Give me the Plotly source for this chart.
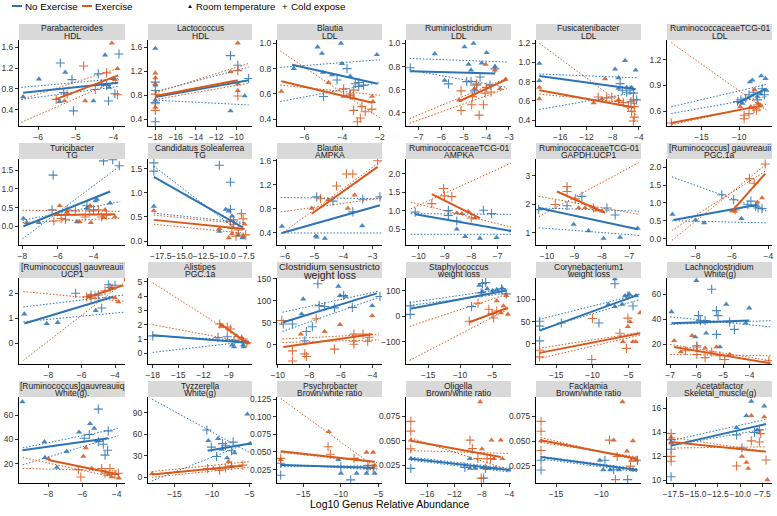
import plotly.graph_objects as go
from plotly.subplots import make_subplots

W, H = 777, 516
BLUE = "#2c73b4"
ORANGE = "#d9581c"
FONT = "Liberation Sans, Arial, sans-serif"

# Facet titles (genus / measurement)
GENUS = [
    "Parabacteroides", "Lactococcus", "Blautia", "Ruminiclostridium", "Fusicatenibacter", "RuminococcaceaeTCG-01",
    "Turicibacter", "Candidatus Soleaferrea", "Blautia", "RuminococcaceaeTCG-01", "RuminococcaceaeTCG-01", "[Ruminococcus] gauvreauii",
    "[Ruminococcus] gauvreauii", "Alistipes", "Clostridium sensustricto", "Staphylococcus", "Corynebacterium1", "Lachnoclostridium",
    "[Ruminococcus]gauvreauiiq", "Tyzzerella", "Psychrobacter", "Oligella", "Facklamia", "Acetatifactor",
]
MEASURE = [
    "HDL", "HDL", "LDL", "LDL", "LDL", "LDL",
    "TG", "TG", "AMPKA", "AMPKA", "GAPDH.UCP1", "PGC.1a",
    "UCP1", "PGC.1a", "weight loss", "weight loss", "weight loss", "White(g)",
    "White(g).", "White(g)", "Brown/white ratio", "Brown/white ratio", "Brown/white ratio", "Skeletal_muscle(g)",
]

X_TICKS = [
    ["-6", "-5", "-4"], ["-18", "-16", "-14", "-12", "-10"], ["-6", "-4", "-2"],
    ["-7", "-6", "-5", "-4", "-3"], ["-16", "-12", "-8", "-4"], ["-15", "-10"],
    ["-8", "-6", "-4"], ["-17.5", "-15.0", "-12.5", "-10.0", "-7.5"], ["-6", "-5", "-4", "-3"],
    ["-10", "-9", "-8", "-7"], ["-10", "-9", "-8", "-7"], ["-8", "-6", "-4"],
    ["-8", "-6", "-4"], ["-18", "-15", "-12", "-9"], ["-10", "-8", "-6", "-4"],
    ["-15", "-10", "-5"], ["-15", "-10", "-5"], ["-7", "-6", "-5", "-4"],
    ["-8", "-6", "-4"], ["-15", "-10", "-5"], ["-15", "-10", "-5"],
    ["-16", "-12", "-8", "-4"], ["-15", "-10"], ["-17.5", "-15.0", "-12.5", "-10.0", "-7.5"],
]
Y_TICKS = [
    ["0.4", "0.8", "1.2", "1.6"], ["0.4", "0.8", "1.2", "1.6"], ["0.4", "0.6", "0.8", "1.0"],
    ["0.4", "0.6", "0.8", "1.0"], ["0.4", "0.6", "0.8", "1.0", "1.2"], ["0.6", "0.9", "1.2"],
    ["0.0", "0.5", "1.0", "1.5"], ["0.0", "0.5", "1.0", "1.5"], ["0.4", "0.8", "1.2", "1.6"],
    ["0.5", "1.0", "1.5", "2.0"], ["1", "2", "3"], ["0.0", "0.5", "1.0", "1.5", "2.0"],
    ["0", "1", "2"], ["0", "1", "2", "3", "4", "5"], ["0", "50", "100", "150"],
    ["-100", "0", "100"], ["0", "50", "100", "150"], ["20", "40", "60"],
    ["20", "40", "60"], ["0", "30", "60", "90"], ["0.025", "0.050", "0.075", "0.100", "0.125"],
    ["0.025", "0.050", "0.075"], ["0.025", "0.050", "0.075"], ["10", "12", "14", "16"],
]
X_RANGE = [
    [-6.51, -3.69], [-18.72, -8.47], [-7.47, -1.89], [-7.56, -2.91], [-19.71, -3.66], [-19.57, -5.65],
    [-8.19, -2.23], [-18.98, -6.83], [-6.28, -2.68], [-10.48, -6.49], [-10.4, -6.58], [-9.57, -3.8],
    [-9.76, -3.4], [-18.56, -6.28], [-10.05, -3.4], [-18.47, -2.03], [-17.8, -3.29], [-7.12, -3.15],
    [-9.72, -3.51], [-18.54, -4.68], [-18.49, -4.53], [-19.1, -3.75], [-17.2, -5.65], [-18.21, -6.43],
]
Y_RANGE = [
    [0.09, 1.74], [0.29, 1.72], [0.347, 1.026], [0.286, 1.03], [0.338, 1.234], [0.425, 1.43],
    [-0.5, 1.8], [-0.08, 1.7], [0.2, 1.63], [0.07, 2.4], [0.56, 3.6], [-0.18, 2.23],
    [-0.83, 2.61], [-0.74, 5.26], [-44, 152], [-187, 149], [-45, 148], [4.4, 73],
    [4, 75], [-8, 112], [0.006, 0.128], [0.0067, 0.095], [0.0076, 0.0947], [9.78, 16.96],
]

# No Exercise, room temperature (triangles)
NOEX_RT = [
    [(-6.40, 0.65), (-5.98, 0.99), (-5.28, 1.12), (-5.43, 0.56), (-4.22, 1.45), (-4.11, 0.83), (-4.53, 0.57), (-4.00, 1.00)],
    [(-18.0, 1.58), (-18.0, 0.97), (-18.0, 0.72), (-10.59, 0.54), (-9.19, 0.79)],
    [(-5.31, 0.97), (-4.07, 1.0), (-5.08, 0.92), (-6.58, 0.80), (-2.16, 0.91), (-4.55, 0.75), (-3.58, 0.74), (-4.02, 0.84), (-5.03, 0.77)],
    [(-6.29, 0.91), (-4.97, 0.97), (-4.57, 1.0), (-3.99, 0.92), (-5.85, 0.68), (-4.79, 0.82), (-4.68, 0.77), (-4.21, 0.83), (-3.62, 0.80)],
    [(-19.2, 0.99), (-19.2, 0.81), (-7.62, 0.93), (-6.1, 1.02), (-4.48, 0.92), (-7.1, 0.84), (-5.85, 0.74), (-5.1, 0.74), (-7.1, 0.73)],
    [(-8.57, 0.94), (-8.26, 0.96), (-7.09, 1.01), (-6.52, 0.98), (-6.39, 0.84), (-7.6, 0.77), (-7.17, 0.80), (-9.57, 0.69)],
    [(-7.94, 0.21), (-7.76, 0.10), (-7.07, 0.10), (-3.81, 0.72), (-3.90, 0.68), (-3.07, 0.62), (-4.37, 0.48), (-4.93, 0.12)],
    [(-18.3, 0.72), (-10.65, 0.20), (-9.9, 0.66), (-9.54, 0.62), (-9.17, 0.52), (-8.43, 0.13), (-7.94, 0.07)],
    [(-6.11, 0.51), (-4.95, 0.35), (-4.92, 0.33), (-4.64, 0.31), (-3.36, 0.52)],
    [(-8.55, 0.50), (-8.23, 0.30), (-7.67, 0.25), (-7.04, 0.27), (-6.47, 0.45)],
    [(-9.03, 1.29), (-8.49, 1.06), (-7.94, 0.79), (-7.34, 0.83), (-6.7, 1.15)],
    [(-9.27, 0.68), (-8.0, 0.52), (-7.53, 0.44), (-5.48, 0.56)],
    [(-9.44, 1.17), (-8.1, 0.79), (-7.44, 0.83), (-5.16, 1.31)],
    [(-8.64, 0.57), (-8.38, 0.46), (-7.33, 0.57), (-7.25, 0.46)],
    [(-8.39, 104), (-8.49, 70), (-6.16, 133), (-6.06, 112), (-5.71, 110), (-4.02, 89)],
    [(-7.0, 120), (-6.5, 96), (-5.74, 107), (-4.9, 100), (-4.26, 104), (-3.42, 109)],
    [(-6.9, 146), (-7.8, 89), (-6.9, 84), (-5.9, 89), (-5.5, 108), (-4.9, 112), (-4.0, 108)],
    [(-6.95, 46), (-6.01, 71), (-4.88, 52), (-4.01, 49), (-4.14, 37), (-6.05, 26), (-5.64, 29), (-5.12, 18)],
    [(-9.52, 71), (-8.23, 38), (-8.2, 25), (-7.5, 17), (-6.93, 30), (-6.2, 46), (-5.56, 53), (-5.31, 49), (-5.07, 39)],
    [(-10.5, 51), (-9.2, 54), (-8.7, 39), (-8.0, 27), (-7.0, 34), (-5.3, 88), (-4.9, 47)],
    [(-10.35, 0.039), (-10.0, 0.0198), (-7.9, 0.0198), (-6.6, 0.0198), (-5.5, 0.0198)],
    [(-18.4, 0.0317), (-9.75, 0.0317), (-9.75, 0.0217), (-9.0, 0.0217), (-7.0, 0.0217), (-6.0, 0.0217), (-4.0, 0.020)],
    [(-10.19, 0.0306), (-9.81, 0.021), (-9.04, 0.021), (-8.08, 0.021), (-6.54, 0.021)],
    [(-17.75, 13.2), (-10.4, 14.4), (-9.3, 15.4), (-8.75, 16.6), (-7.3, 16.2), (-8.1, 14.2)],
]

# No Exercise, cold expose (crosses)
NOEX_COLD = [
    [(-5.41, 1.30), (-5.10, 0.98), (-5.06, 0.38), (-5.32, 0.73), (-4.40, 1.09), (-4.13, 0.57), (-3.85, 1.47), (-3.96, 0.71), (-4.18, 0.87)],
    [(-18.0, 1.02), (-18.0, 0.88), (-18.0, 0.36), (-18.0, 0.68), (-10.59, 1.46), (-9.87, 1.30), (-8.8, 1.08)],
    [(-4.28, 0.71), (-3.75, 0.80), (-3.31, 0.68), (-3.13, 0.66), (-2.87, 0.67), (-5.0, 0.58), (-3.58, 0.59), (-3.13, 0.69)],
    [(-7.37, 0.79), (-5.68, 0.65), (-4.87, 0.67), (-4.68, 0.67), (-4.28, 0.71), (-4.43, 0.64), (-4.53, 0.59), (-3.84, 0.64), (-3.62, 0.78)],
    [(-6.86, 0.78), (-6.5, 0.71), (-5.85, 0.69), (-5.34, 0.71), (-4.83, 0.68), (-5.19, 0.59), (-4.33, 0.61)],
    [(-10.2, 0.71), (-9.78, 0.73), (-9.13, 0.75), (-8.7, 0.79), (-8.13, 0.82), (-6.96, 0.86), (-6.65, 0.79), (-7.6, 0.73)],
    [(-6.27, 1.37), (-3.44, 1.75), (-2.92, 1.78), (-2.55, 1.62), (-6.33, 0.44), (-5.58, 0.19), (-4.37, 0.55), (-4.0, 0.44)],
    [(-18.3, 1.62), (-18.3, 1.45), (-10.65, 1.57), (-9.35, 1.22), (-9.35, 0.66), (-8.98, 0.44)],
    [(-4.92, 1.0), (-4.36, 0.93), (-3.68, 0.75), (-3.34, 0.96), (-2.75, 1.0)],
    [(-10.13, 0.96), (-8.87, 1.0), (-8.87, 0.87), (-8.55, 0.72), (-7.54, 1.01), (-7.23, 0.92)],
    [(-10.3, 1.81), (-9.27, 1.95), (-8.73, 2.28), (-7.82, 1.87), (-7.52, 1.62)],
    [(-6.56, 1.23), (-5.91, 1.09), (-5.13, 0.95), (-4.96, 1.05), (-4.7, 0.91), (-4.57, 0.86), (-4.35, 0.84)],
    [(-6.36, 2.0), (-4.8, 1.41), (-5.44, 1.93), (-5.0, 1.93), (-4.4, 2.34), (-4.0, 2.32)],
    [(-18.0, 1.22), (-10.3, 1.11), (-9.2, 1.16), (-8.4, 0.90), (-7.33, 0.83)],
    [(-9.65, 47), (-9.07, 47), (-8.19, 30), (-7.81, 41), (-7.46, 139), (-7.38, 89), (-7.03, 87), (-6.41, 84),
     (-5.83, 112), (-5.28, 85), (-3.53, 110), (-8.29, 9)],
    [(-17.8, 40), (-17.8, 7), (-8.2, 37), (-6.5, 127), (-6.0, 131), (-6.7, 91), (-3.5, 107), (-2.77, 87)],
    [(-17.3, 51), (-17.3, 40), (-17.3, 7), (-14.3, 47), (-9.1, 47), (-6.9, 135), (-5.1, 108), (-4.4, 85)],
    [(-5.93, 43), (-5.86, 39), (-5.68, 39), (-5.43, 64), (-5.25, 47), (-5.19, 43), (-5.25, 28), (-4.75, 38), (-4.57, 32), (-5.99, 19)],
    [(-5.07, 65), (-5.07, 38), (-4.78, 36), (-4.68, 27), (-4.53, 31), (-4.49, 47), (-5.6, 44), (-5.9, 41)],
    [(-10.7, 66), (-10.1, 42), (-9.4, 29), (-8.6, 47), (-8.2, 44), (-7.4, 37), (-7.2, 49)],
    [(-18.0, 0.034), (-18.0, 0.017), (-10.0, 0.029), (-8.7, 0.0104), (-6.4, 0.0269)],
    [(-18.4, 0.0217), (-10.5, 0.0227), (-7.75, 0.0117), (-7.5, 0.0217)],
    [(-16.65, 0.0306), (-16.65, 0.0207), (-9.62, 0.0306), (-8.65, 0.021), (-7.12, 0.011), (-6.04, 0.0306)],
    [(-17.75, 12.6), (-17.75, 10.3), (-17.75, 13.4), (-10.4, 13.8), (-9.8, 12.7), (-7.85, 14.2), (-8.4, 14.0)],
]

# Exercise, room temperature (triangles)
EX_RT = [
    [(-4.04, 1.68), (-3.89, 1.19), (-4.75, 0.57), (-5.30, 0.57), (-3.96, 0.98)],
    [(-18.0, 1.17), (-18.0, 1.09), (-18.0, 0.99), (-18.0, 0.60), (-9.87, 1.67), (-10.59, 1.19), (-9.87, 0.99), (-9.87, 0.88)],
    [(-7.24, 0.62), (-4.73, 0.69), (-3.93, 0.58), (-3.4, 0.57), (-2.42, 0.58), (-2.37, 0.54)],
    [(-5.21, 0.51), (-4.03, 0.82), (-3.62, 0.77), (-4.53, 0.61), (-3.40, 0.61), (-3.15, 0.69)],
    [(-19.2, 0.62), (-19.2, 0.74), (-9.14, 0.83), (-9.65, 0.62), (-10.9, 0.58), (-7.1, 0.61)],
    [(-9.87, 0.65), (-7.96, 0.85), (-8.48, 0.65), (-7.52, 0.69), (-7.17, 0.67)],
    [(-5.9, 0.55), (-4.78, 0.12), (-4.19, 0.55), (-4.15, 0.10), (-3.44, 0.23), (-2.79, 0.25), (-5.49, 0.37), (-3.35, 0.44)],
    [(-18.3, 0.63), (-10.65, 0.26), (-9.54, 0.07), (-9.17, 0.15), (-7.87, 0.10), (-7.7, 0.35)],
    [(-5.09, 0.81), (-4.53, 0.95), (-3.85, 0.81), (-3.62, 1.03)],
    [(-8.55, 0.94), (-8.36, 0.92), (-8.11, 0.98), (-7.86, 0.80)],
    [(-8.85, 1.87), (-8.61, 1.87), (-8.19, 1.79), (-8.0, 1.76)],
    [(-6.0, 0.77), (-4.6, 1.02), (-4.35, 1.14), (-5.83, 0.77)],
    [(-5.56, 1.89), (-4.2, 2.23), (-4.0, 1.82), (-3.8, 1.66)],
    [(-9.95, 1.88), (-8.1, 1.22), (-7.5, 1.10), (-7.1, 0.83), (-6.76, 0.74)],
    [(-8.54, 24), (-7.03, 30), (-6.06, 46), (-4.02, 66)],
    [(-4.26, 60), (-3.6, 13), (-2.52, 7), (-2.77, 80), (-3.2, 40)],
    [(-5.1, 39), (-4.4, 5), (-4.0, 5), (-3.4, 70), (-5.8, 5), (-4.8, 50)],
    [(-6.85, 23), (-6.17, 27), (-5.68, 17), (-5.25, 18), (-4.75, 12), (-6.6, 14)],
    [(-8.0, 24), (-5.95, 26), (-5.81, 33), (-5.46, 16), (-4.49, 11), (-3.86, 8), (-4.3, 9)],
    [(-18.0, 5), (-9.8, 12), (-7.8, 22), (-7.4, 15)],
    [(-18.0, 0.039), (-11.6, 0.0788), (-7.8, 0.039), (-6.6, 0.0495), (-5.7, 0.0495), (-5.5, 0.031)],
    [(-18.4, 0.0507), (-8.25, 0.09), (-8.0, 0.0417), (-7.5, 0.0217), (-6.6, 0.0507), (-5.25, 0.0507), (-6.25, 0.0317), (-5.0, 0.0317)],
    [(-16.65, 0.0503), (-8.65, 0.051), (-7.69, 0.0898), (-7.19, 0.0398), (-6.54, 0.0503), (-6.15, 0.0306), (-6.73, 0.0306)],
    [(-17.75, 13.6), (-17.75, 13.1), (-9.8, 12.0), (-9.3, 11.5), (-9.1, 11.0), (-8.75, 15.4), (-7.3, 15.3), (-6.95, 10.05)],
]

# Exercise, cold expose (crosses)
EX_COLD = [
    [(-5.52, 0.60), (-4.79, 1.24), (-4.48, 0.79), (-3.89, 0.69), (-4.31, 0.90), (-5.23, 0.70), (-4.18, 1.11)],
    [(-18.0, 0.82), (-18.0, 0.66), (-18.0, 0.55), (-9.87, 1.21), (-9.87, 0.79)],
    [(-3.93, 0.64), (-3.4, 0.63), (-3.4, 0.47), (-2.96, 0.50), (-3.04, 0.41), (-2.78, 0.46), (-2.43, 0.48), (-3.2, 0.38), (-3.58, 0.60)],
    [(-5.12, 0.59), (-5.12, 0.42), (-4.65, 0.47), (-4.32, 0.38), (-4.13, 0.47), (-4.06, 0.57), (-3.99, 0.62), (-3.79, 0.58), (-4.62, 0.54), (-4.43, 0.65)],
    [(-10.2, 0.64), (-8.9, 0.63), (-8.13, 0.64), (-7.1, 0.60), (-4.83, 0.61), (-4.68, 0.54), (-5.1, 0.49), (-4.68, 0.43), (-4.83, 0.39), (-5.6, 0.54), (-6.35, 0.58)],
    [(-19.0, 0.46), (-9.35, 0.55), (-9.35, 0.51), (-8.7, 0.57), (-8.04, 0.63), (-7.7, 0.61), (-7.39, 0.65)],
    [(-6.23, 0.14), (-5.82, 0.21), (-5.49, 0.44), (-5.02, 0.41), (-4.22, 0.41), (-3.72, 0.44), (-3.26, 0.30), (-3.54, 0.25), (-4.47, 0.25)],
    [(-9.35, 0.41), (-8.98, 0.35), (-8.43, 0.23), (-8.06, 0.57), (-7.87, 0.46), (-7.57, 0.13), (-9.17, 0.26), (-8.7, 0.10)],
    [(-4.79, 0.97), (-3.90, 1.38), (-3.68, 1.38), (-4.24, 1.18), (-2.83, 1.6)],
    [(-9.5, 1.19), (-9.05, 1.6), (-9.02, 1.4), (-8.74, 1.38), (-8.0, 0.80)],
    [(-9.7, 1.99), (-9.27, 2.63), (-9.27, 2.45), (-8.97, 2.19), (-8.31, 1.87)],
    [(-5.83, 0.80), (-5.04, 1.68), (-4.78, 1.55), (-4.17, 2.09)],
    [(-5.7, 1.86), (-5.44, 1.82), (-5.2, 1.9), (-4.6, 2.1), (-4.3, 2.23), (-3.44, 2.65)],
    [(-10.1, 2.05), (-9.2, 1.83), (-8.8, 1.70), (-7.5, 1.0), (-6.88, 0.74)],
    [(-9.75, 55), (-9.07, -14), (-9.07, -37), (-8.29, -21), (-8.19, -27), (-7.57, 59), (-6.41, -10),
     (-5.18, 8), (-5.18, 1), (-4.31, 8), (-4.21, 17), (-4.6, 24), (-5.18, 24)],
    [(-8.56, -20), (-7.2, 51), (-4.75, -7), (-4.26, 20), (-5.5, 27), (-5.0, 10)],
    [(-17.3, -14), (-17.3, -29), (-10.0, 57), (-10.1, -35), (-6.2, 24), (-5.1, 58), (-5.3, -10)],
    [(-6.42, 15), (-5.99, 12), (-5.68, 9.5), (-5.43, 14), (-5.12, 11), (-4.94, 8), (-5.99, 18), (-3.27, 7)],
    [(-6.24, 15), (-4.88, 16), (-4.68, 12), (-4.1, 11), (-4.39, 16), (-6.1, 9), (-3.9, 12)],
    [(-10.6, 12), (-9.0, 10), (-8.2, 13), (-7.4, 16), (-5.9, 17)],
    [(-18.0, 0.041), (-11.7, 0.0575), (-11.4, 0.0467), (-8.25, 0.041), (-6.4, 0.031), (-5.7, 0.027)],
    [(-18.4, 0.07), (-18.4, 0.06), (-18.4, 0.0417), (-9.75, 0.0507), (-9.4, 0.042), (-8.6, 0.0317), (-8.1, 0.0117), (-7.25, 0.0317), (-6.75, 0.0317)],
    [(-16.65, 0.07), (-16.65, 0.06), (-16.65, 0.0405), (-9.12, 0.051), (-8.27, 0.0345), (-8.46, 0.011), (-6.81, 0.0247)],
    [(-17.75, 13.9), (-17.75, 12.0), (-17.75, 11.6), (-10.4, 11.2), (-8.75, 13.3), (-7.85, 13.2), (-7.1, 11.7), (-7.7, 13.9)],
]

# Fitted lines: [x_start, x_end] and [y_start, y_end]
NOEX_FIT_X = [
    [-6.40, -3.87], [-18.0, -8.8], [-6.67, -2.12], [-7.37, -3.62], [-19.2, -4.48], [-10.3, -6.52],
    [-7.94, -3.07], [-18.3, -7.87], [-6.11, -2.75], [-10.13, -6.47], [-10.3, -6.7], [-9.22, -4.6],
    [-9.44, -4.1], [-18.0, -6.76], [-9.65, -3.73], [-17.8, -2.77], [-17.3, -3.7], [-6.95, -4.01],
    [-9.52, -4.49], [-10.6, -4.9], [-18.0, -5.5], [-18.4, -4.0], [-16.65, -6.04], [-17.75, -7.1],
]
NOEX_FIT_Y = [
    [0.73, 0.92], [0.77, 1.05], [0.83, 0.68], [0.76, 0.74], [0.86, 0.72], [0.69, 0.86],
    [0.0, 0.93], [1.33, 0.28], [0.40, 0.86], [0.90, 0.45], [1.87, 1.12], [0.52, 0.95],
    [0.79, 1.86], [1.27, 0.74], [51, 117], [29, 100], [30, 110], [37, 39],
    [31, 41], [37, 47], [0.0316, 0.0278], [0.0317, 0.020], [0.0339, 0.0207], [12.9, 14.7],
]
EX_FIT_X = [
    [-5.54, -3.87], [-18.0, -9.87], [-7.24, -2.4], [-5.21, -3.1], [-19.2, -4.68], [-19.0, -7.17],
    [-6.23, -2.79], [-18.3, -7.68], [-5.09, -2.83], [-9.5, -7.67], [-9.64, -7.88], [-6.0, -4.17],
    [-5.7, -3.5], [-10.1, -6.76], [-9.65, -4.02], [-8.56, -2.52], [-17.3, -3.4], [-6.85, -3.21],
    [-8.0, -3.86], [-18.0, -5.9], [-18.0, -5.5], [-18.4, -5.25], [-16.65, -6.04], [-17.75, -7.1],
]
EX_FIT_Y = [
    [0.60, 1.06], [0.79, 1.05], [0.70, 0.53], [0.50, 0.69], [0.71, 0.53], [0.46, 0.66],
    [0.30, 0.32], [0.44, 0.25], [0.72, 1.5], [1.45, 0.80], [2.45, 1.70], [0.77, 1.82],
    [1.82, 2.32], [2.1, 0.68], [-5, 24], [-24, 33], [-20, 24], [18, 5],
    [23, 11], [4, 16], [0.051, 0.036], [0.050, 0.0333], [0.051, 0.0322], [13.2, 12.4],
]

# Confidence bounds (dotted), each [y_left, y_right] over CI_X
CI_X = [
    [-6.45, -3.85], [-18.0, -8.8], [-7.3, -2.0], [-7.4, -3.1], [-19.2, -4.3], [-19.0, -6.4],
    [-8.0, -2.5], [-18.3, -7.6], [-6.15, -2.7], [-10.3, -6.45], [-10.3, -6.65], [-9.3, -4.1],
    [-9.5, -3.5], [-18.0, -6.7], [-9.7, -3.6], [-17.9, -2.5], [-17.4, -3.4], [-7.0, -3.2],
    [-9.5, -3.9], [-18.0, -4.9], [-18.0, -5.2], [-18.4, -4.0], [-16.7, -6.0], [-17.8, -7.1],
]
NOEX_CI_A = [
    [0.83, 1.00], [0.86, 1.27], [0.81, 0.87], [0.87, 0.84], [0.88, 0.84], [0.65, 0.91],
    [-0.34, 1.62], [1.55, 0.10], [0.99, 0.97], [0.92, 0.90], [1.87, 1.76], [1.73, 0.77],
    [1.45, 1.93], [1.22, 0.90], [74, 122], [53, 108], [55, 112], [42, 34],
    [33, 49], [109, 34], [0.0325, 0.0245], [0.0333, 0.0217], [0.0345, 0.022], [13.3, 15.1],
]
NOEX_CI_B = [
    [0.60, 0.85], [0.72, 0.64], [0.54, 0.69], [0.77, 0.62], [0.51, 0.69], [0.57, 0.77],
    [0.16, 0.66], [0.58, 0.38], [0.40, 0.40], [0.36, 0.36], [1.17, 0.90], [0.50, 0.44],
    [0.86, 1.24], [0.07, 0.83], [30, 108], [42, 90], [32, 100], [36, 39],
    [19, 43], [-5, 49], [0.029, 0.0306], [0.030, 0.018], [0.032, 0.019], [12.9, 14.3],
]
EX_CI_A = [
    [0.60, 1.20], [0.84, 1.33], [0.94, 0.41], [0.35, 0.70], [1.20, 0.45], [1.40, 0.61],
    [0.43, 0.40], [0.54, 0.35], [0.38, 1.6], [1.05, 2.3], [1.56, 3.48], [-0.05, 2.09],
    [2.07, 1.68], [4.93, 0.68], [13, 24], [-40, 87], [-10, 26], [20, 7],
    [25, 8], [8, 22], [0.126, 0.027], [0.053, 0.020], [0.0536, 0.0306], [13.6, 12.4],
]
EX_CI_B = [
    [0.16, 0.98], [0.73, 1.0], [0.67, 0.59], [0.31, 0.61], [0.67, 0.57], [0.44, 0.68],
    [0.10, 0.22], [0.35, 0.16], [0.75, 0.98], [1.23, 0.55], [2.28, 1.64], [0.23, 1.91],
    [-0.69, 2.41], [2.0, 0.75], [5, 11], [-173, 27], [-33, 20], [12, 11],
    [16, 14], [0, 14], [0.0495, 0.035], [0.040, 0.037], [0.0487, 0.0339], [12.7, 12.8],
]

# Panel geometry in pixels
COL_X = [(19, 125), (148, 252), (277, 382), (406, 511), (536, 641), (667, 772)]
ROW_TOP = [24, 143, 262, 381]
STRIP_H = 16
PLOT_H = 86


def fx(px):
    return px / W


def fy(py):
    return 1 - py / H


def minus(s):
    return s.replace("-", "\u2212")


fig = make_subplots(rows=4, cols=6)

for i in range(24):
    r, c = divmod(i, 6)
    row, col = r + 1, c + 1
    x0, x1 = COL_X[c]
    top = ROW_TOP[r]

    groups = [
        (NOEX_RT[i], BLUE, "triangle-up"),
        (NOEX_COLD[i], BLUE, "cross-thin"),
        (EX_RT[i], ORANGE, "triangle-up"),
        (EX_COLD[i], ORANGE, "cross-thin"),
    ]
    for pts, color, sym in groups:
        if sym == "triangle-up":
            marker = dict(symbol=sym, size=5.5, color=color)
        else:
            marker = dict(symbol=sym, size=6.5, color=color, line=dict(color=color, width=1.1))
        fig.add_trace(go.Scatter(
            x=[p[0] for p in pts], y=[p[1] for p in pts],
            mode="markers", marker=marker, opacity=0.85,
            showlegend=False, hoverinfo="skip",
        ), row=row, col=col)

    for ys, color in [(NOEX_CI_A[i], BLUE), (NOEX_CI_B[i], BLUE), (EX_CI_A[i], ORANGE), (EX_CI_B[i], ORANGE)]:
        fig.add_trace(go.Scatter(
            x=CI_X[i], y=ys, mode="lines",
            line=dict(color=color, width=1, dash="1.5px,1.8px"),
            showlegend=False, hoverinfo="skip",
        ), row=row, col=col)

    fig.add_trace(go.Scatter(
        x=NOEX_FIT_X[i], y=NOEX_FIT_Y[i], mode="lines",
        line=dict(color=BLUE, width=2), showlegend=False, hoverinfo="skip",
    ), row=row, col=col)
    fig.add_trace(go.Scatter(
        x=EX_FIT_X[i], y=EX_FIT_Y[i], mode="lines",
        line=dict(color=ORANGE, width=2), showlegend=False, hoverinfo="skip",
    ), row=row, col=col)

    axis_style = dict(
        showline=True, linecolor="black", linewidth=1, mirror=False,
        ticks="outside", ticklen=3, tickwidth=1, tickcolor="#333333",
        tickfont=dict(family=FONT, size=8.5, color="#333333"),
        showgrid=False, zeroline=False, automargin=False, tickangle=0,
    )
    fig.update_xaxes(
        domain=[fx(x0), fx(x1)], range=X_RANGE[i],
        tickvals=[float(t) for t in X_TICKS[i]], ticktext=[minus(t) for t in X_TICKS[i]],
        row=row, col=col, **axis_style,
    )
    fig.update_yaxes(
        domain=[fy(top + STRIP_H + PLOT_H), fy(top + STRIP_H)], range=Y_RANGE[i],
        tickvals=[float(t) for t in Y_TICKS[i]], ticktext=[minus(t) for t in Y_TICKS[i]],
        row=row, col=col, **axis_style,
    )

    # facet strip
    fig.add_shape(type="rect", xref="paper", yref="paper",
                  x0=fx(x0), x1=fx(x1), y0=fy(top + STRIP_H), y1=fy(top),
                  fillcolor="#d9d9d9", line_width=0, layer="below")
    big = i == 14
    fig.add_annotation(text=GENUS[i], xref="paper", yref="paper",
                       x=fx((x0 + x1) / 2), y=fy(top + 4.5), showarrow=False,
                       xanchor="center", yanchor="middle", borderpad=0,
                       font=dict(family=FONT, size=9.5 if big else 8.5, color="#1a1a1a"))
    fig.add_annotation(text=MEASURE[i], xref="paper", yref="paper",
                       x=fx((x0 + x1) / 2), y=fy(top + 12.5 if big else top + 11.5), showarrow=False,
                       xanchor="center", yanchor="middle", borderpad=0,
                       font=dict(family=FONT, size=10.5 if big else 8.5, color="#1a1a1a"))

# legend drawn by hand
LEG_Y = 6
fig.add_shape(type="line", xref="paper", yref="paper", x0=fx(12), x1=fx(22), y0=fy(LEG_Y), y1=fy(LEG_Y),
              line=dict(color=BLUE, width=2))
fig.add_shape(type="line", xref="paper", yref="paper", x0=fx(82), x1=fx(92), y0=fy(LEG_Y), y1=fy(LEG_Y),
              line=dict(color=ORANGE, width=2))
legend_items = [
    (24, "No Exercise", 9.8),
    (94, "Exercise", 9.8),
    (186, "\u25b2", 6),
    (195, "Room temperature", 9.5),
    (281, "+", 9.8),
    (290, "Cold expose", 9.8),
]
for lx, txt, size in legend_items:
    fig.add_annotation(text=txt, xref="paper", yref="paper", x=fx(lx), y=fy(LEG_Y),
                       xanchor="left", yanchor="middle", showarrow=False, borderpad=0,
                       font=dict(family=FONT, size=size, color="black"))

fig.add_annotation(text="Log10 Genus Relative Abundance", xref="paper", yref="paper",
                   x=fx(390), y=fy(504), showarrow=False, xanchor="center", yanchor="middle",
                   font=dict(family=FONT, size=10.5, color="black"))

fig.update_layout(
    width=W, height=H,
    margin=dict(l=0, r=0, t=0, b=0),
    plot_bgcolor="white", paper_bgcolor="white",
    showlegend=False,
    font=dict(family=FONT),
)

# drop the default page margin so the figure sits at the window's corner
fig.write_html("out.html", config={"displayModeBar": False},
               post_script="document.body.style.margin='0';")
